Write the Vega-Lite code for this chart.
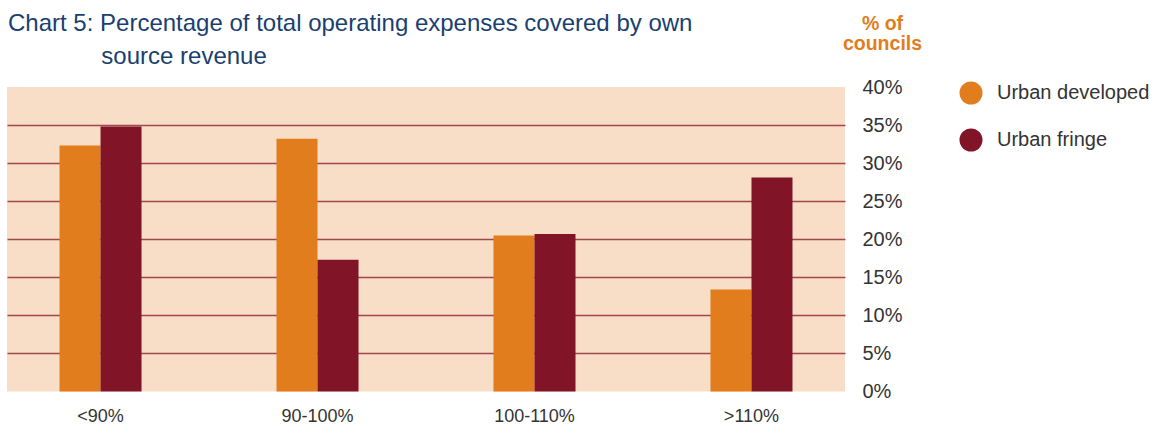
{
  "$schema": "https://vega.github.io/schema/vega-lite/v6.json",
  "autosize": "none",
  "padding": {"left": 7, "top": 87, "right": 323, "bottom": 34.5},
  "width": 838,
  "height": 304.5,
  "background": "white",
  "config": {
    "font": "Liberation Sans",
    "view": {"fill": "#f9dec7", "stroke": null}
  },
  "title": {
    "text": ["Chart 5: Percentage of total operating expenses covered by own", "\u200b\u00a0\u00a0\u00a0\u00a0\u00a0\u00a0\u00a0\u00a0\u00a0\u00a0\u00a0\u00a0\u00a0\u00a0source revenue"],
    "anchor": "start",
    "frame": "group",
    "font": "Liberation Sans",
    "fontSize": 24,
    "fontWeight": "normal",
    "color": "#1a3f70",
    "lineHeight": 33,
    "baseline": "bottom",
    "offset": -80,
    "dx": 1
  },
  "data": {
    "values": [
      {"range": "<90%", "type": "Urban developed", "pct": 0.323},
      {"range": "<90%", "type": "Urban fringe", "pct": 0.348},
      {"range": "90-100%", "type": "Urban developed", "pct": 0.332},
      {"range": "90-100%", "type": "Urban fringe", "pct": 0.173},
      {"range": "100-110%", "type": "Urban developed", "pct": 0.205},
      {"range": "100-110%", "type": "Urban fringe", "pct": 0.207},
      {"range": ">110%", "type": "Urban developed", "pct": 0.134},
      {"range": ">110%", "type": "Urban fringe", "pct": 0.281}
    ]
  },
  "mark": {"type": "bar"},
  "encoding": {
    "x": {
      "field": "range",
      "type": "nominal",
      "sort": ["<90%", "90-100%", "100-110%", ">110%"],
      "scale": {"paddingInner": 0.622, "paddingOuter": 0.242},
      "axis": {
        "title": null,
        "labelAngle": 0,
        "labelFontSize": 18,
        "labelColor": "#333333",
        "labelPadding": 16,
        "ticks": false,
        "domain": false,
        "grid": false
      }
    },
    "xOffset": {"field": "type", "type": "nominal", "sort": ["Urban developed", "Urban fringe"], "scale": {"paddingInner": 0, "paddingOuter": 0}},
    "y": {
      "field": "pct",
      "type": "quantitative",
      "scale": {"domain": [0, 0.4], "nice": false},
      "axis": {
        "orient": "right",
        "format": ".0%",
        "values": [0, 0.05, 0.1, 0.15, 0.2, 0.25, 0.3, 0.35, 0.4],
        "labelFontSize": 20,
        "labelColor": "#333333",
        "labelPadding": 17,
        "ticks": false,
        "domain": false,
        "grid": true,
        "gridColor": {"condition": {"test": "datum.value === 0 || datum.value === 0.4", "value": "transparent"}, "value": "#821428"},
        "gridWidth": 1.4,
        "gridOpacity": 0.75,
        "title": ["% of", "councils"],
        "titleColor": "#e27d1e",
        "titleFontSize": 19.5,
        "titleFontWeight": "bold",
        "titleAngle": 0,
        "titleAlign": "center",
        "titleBaseline": "alphabetic",
        "titleLineHeight": 20,
        "titleX": 37,
        "titleY": -58
      }
    },
    "color": {
      "field": "type",
      "type": "nominal",
      "scale": {"domain": ["Urban developed", "Urban fringe"], "range": ["#e27d1e", "#821428"]},
      "legend": {
        "title": null,
        "orient": "none",
        "legendX": 952,
        "legendY": -6,
        "symbolType": "circle",
        "symbolSize": 530,
        "symbolStrokeWidth": 0,
        "symbolOpacity": 1,
        "labelFontSize": 20,
        "labelColor": "#333333",
        "labelOffset": 14,
        "rowPadding": 23
      }
    }
  }
}
